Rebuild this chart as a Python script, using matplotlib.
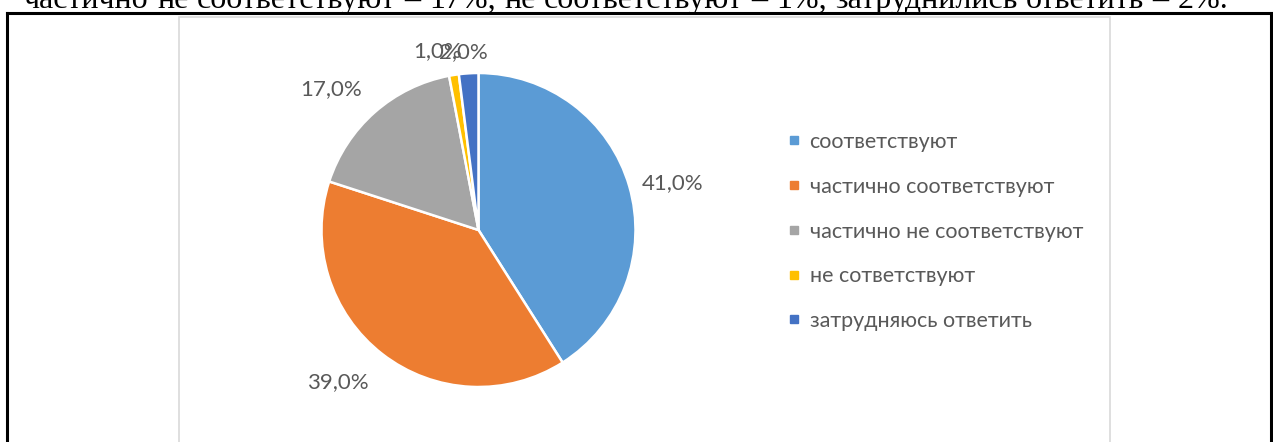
import matplotlib.pyplot as plt
import numpy as np
from matplotlib.lines import Line2D
from matplotlib.patches import Rectangle

# ======================== данные ========================
categories = ['соответствуют', 'частично соответствуют', 'частично не соответствуют',
              'не сответствуют', 'затрудняюсь ответить']
values = [41.0, 39.0, 17.0, 1.0, 2.0]
colors = ['#5B9BD5', '#ED7D31', '#A5A5A5', '#FFC000', '#4472C4']
top_line = 'частично не соответствуют – 17%, не соответствуют – 1%, затруднились ответить – 2%.'

# сдвиги подписей (угол, радиус) относительно середины сектора
label_dtheta = [-2.6, -5.1, 4.8, 4.0, 1.2]
label_r = [1.27, 1.32, 1.30, 1.17, 1.14]

W, H = 1273, 442
fig = plt.figure(figsize=(W / 100, H / 100), dpi=100)
fig.patch.set_facecolor('white')

def px(x, y):
    # пиксели (от левого верхнего угла) -> доли фигуры
    return x / W, 1 - y / H

# ======================== рамки таблицы и диаграммы ========================
fig.add_artist(Line2D([7 / W, 1], [1 - 13 / H, 1 - 13 / H], color='black', lw=2.2,
                      transform=fig.transFigure))
fig.add_artist(Line2D([7 / W, 7 / W], [0, 1 - 13 / H], color='black', lw=2.2,
                      transform=fig.transFigure))
fig.add_artist(Line2D([1271 / W, 1271 / W], [0, 1 - 13 / H], color='black', lw=2.2,
                      transform=fig.transFigure))
fig.add_artist(Rectangle(px(179, 460), (1110 - 179) / W, (460 - 17) / H, fill=False,
                         edgecolor='#D9D9D9', lw=1.2, transform=fig.transFigure))

# ======================== строка текста сверху (по ширине) ========================
words = top_line.split(' ')
x0, x1 = 24, 1228
txts = [fig.text(0, 0, w, fontsize=23, family='Liberation Serif', color='black') for w in words]
fig.canvas.draw()
r = fig.canvas.get_renderer()
widths = [t.get_window_extent(r).width for t in txts]
gap = (x1 - x0 - sum(widths)) / (len(words) - 1)
xc = x0
for t, w in zip(txts, widths):
    t.set_position(px(xc, 8))
    t.set_va('baseline')
    xc += w + gap

# ======================== круговая диаграмма ========================
cx, cy, rad = 478.5, 230, 157
ax = fig.add_axes([(cx - rad) / W, 1 - (cy + rad) / H, 2 * rad / W, 2 * rad / H])
wedges, _ = ax.pie(values, colors=colors, startangle=90, counterclock=False, radius=1,
                   wedgeprops=dict(edgecolor='white', linewidth=1.8))
ax.set_xlim(-1, 1)
ax.set_ylim(-1, 1)
ax.axis('off')

for w, v, dt, rr in zip(wedges, values, label_dtheta, label_r):
    th = np.deg2rad((w.theta1 + w.theta2) / 2 + dt)
    ax.text(rr * np.cos(th), rr * np.sin(th), f'{v:.1f}%'.replace('.', ','),
            ha='center', va='center', fontsize=16, family='Lato', color='#595959')

# ======================== легенда ========================
handles = [Line2D([], [], marker='s', ls='', color=c, markersize=6) for c in colors]
fig.legend(handles, categories, loc='upper left', bbox_to_anchor=px(788, 132),
           frameon=False, prop={'family': 'Lato', 'size': 15.5}, labelcolor='#595959',
           handlelength=0.6, handletextpad=0.4, labelspacing=1.15, borderpad=0,
           borderaxespad=0)

fig.savefig('out.png', dpi=100)
